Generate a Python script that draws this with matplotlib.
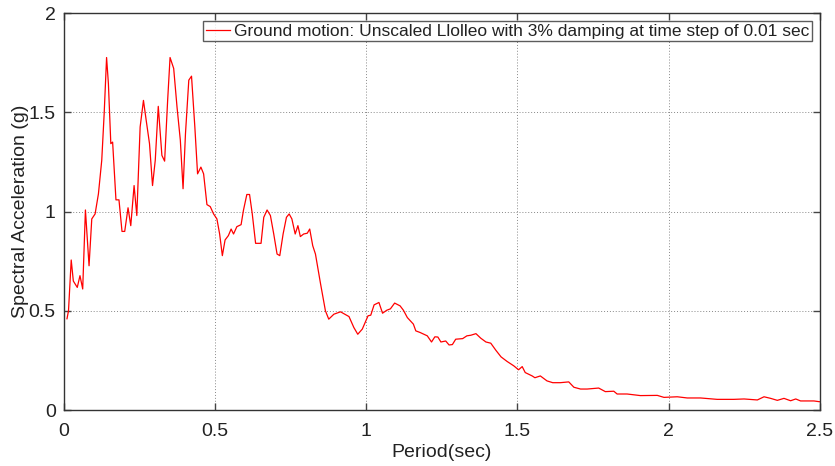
import matplotlib
matplotlib.use("Agg")
import matplotlib.pyplot as plt
import numpy as np

plt.rcParams['font.family'] = ['Liberation Sans', 'DejaVu Sans']

period = [
    0.010, 0.015, 0.024, 0.031, 0.044, 0.053, 0.062, 0.071, 0.083, 0.092,
    0.103, 0.114, 0.125, 0.133, 0.141, 0.147, 0.155, 0.161, 0.172, 0.182,
    0.192, 0.201, 0.212, 0.221, 0.232, 0.241, 0.252, 0.263, 0.272, 0.283,
    0.293, 0.302, 0.312, 0.324, 0.333, 0.343, 0.351, 0.363, 0.374, 0.385,
    0.394, 0.402, 0.413, 0.422, 0.433, 0.442, 0.453, 0.462, 0.473, 0.484,
    0.495, 0.506, 0.515, 0.524, 0.533, 0.544, 0.553, 0.561, 0.572, 0.586,
    0.594, 0.605, 0.614, 0.623, 0.634, 0.652, 0.661, 0.672, 0.683, 0.694,
    0.705, 0.714, 0.725, 0.736, 0.745, 0.754, 0.765, 0.774, 0.782, 0.793,
    0.805, 0.813, 0.823, 0.832, 0.849, 0.865, 0.876, 0.893, 0.915, 0.943,
    0.959, 0.972, 0.987, 1.006, 1.015, 1.026, 1.042, 1.054, 1.068, 1.080,
    1.094, 1.112, 1.123, 1.136, 1.156, 1.164, 1.178, 1.202, 1.216, 1.227,
    1.237, 1.247, 1.263, 1.274, 1.285, 1.296, 1.319, 1.333, 1.346, 1.363,
    1.379, 1.396, 1.412, 1.429, 1.446, 1.466, 1.488, 1.504, 1.516, 1.526,
    1.549, 1.558, 1.576, 1.598, 1.617, 1.642, 1.670, 1.687, 1.709, 1.731,
    1.769, 1.791, 1.819, 1.830, 1.863, 1.907, 1.963, 1.985, 2.029, 2.062,
    2.106, 2.161, 2.216, 2.250, 2.294, 2.316, 2.338, 2.360, 2.382, 2.404,
    2.421, 2.437, 2.481, 2.500,
]
sa = [
    0.460, 0.500, 0.756, 0.650, 0.618, 0.677, 0.610, 1.008, 0.727, 0.963,
    0.988, 1.089, 1.258, 1.493, 1.776, 1.645, 1.342, 1.350, 1.059, 1.059,
    0.900, 0.900, 1.019, 0.929, 1.131, 0.980, 1.426, 1.560, 1.460, 1.342,
    1.131, 1.258, 1.530, 1.283, 1.254, 1.560, 1.776, 1.721, 1.527, 1.359,
    1.115, 1.392, 1.662, 1.682, 1.426, 1.190, 1.224, 1.190, 1.035, 1.025,
    0.988, 0.963, 0.887, 0.778, 0.857, 0.879, 0.912, 0.887, 0.924, 0.934,
    1.008, 1.086, 1.086, 0.988, 0.840, 0.840, 0.971, 1.008, 0.980, 0.887,
    0.786, 0.778, 0.887, 0.971, 0.988, 0.963, 0.887, 0.929, 0.874, 0.887,
    0.891, 0.912, 0.828, 0.786, 0.635, 0.500, 0.458, 0.483, 0.495, 0.471,
    0.416, 0.382, 0.408, 0.475, 0.478, 0.530, 0.542, 0.488, 0.503, 0.510,
    0.539, 0.525, 0.503, 0.466, 0.433, 0.399, 0.391, 0.374, 0.343, 0.369,
    0.368, 0.343, 0.348, 0.328, 0.330, 0.357, 0.360, 0.374, 0.377, 0.385,
    0.362, 0.343, 0.337, 0.301, 0.268, 0.245, 0.223, 0.203, 0.219, 0.189,
    0.172, 0.163, 0.172, 0.147, 0.138, 0.138, 0.142, 0.115, 0.106, 0.106,
    0.111, 0.093, 0.095, 0.081, 0.081, 0.073, 0.074, 0.064, 0.067, 0.061,
    0.061, 0.054, 0.054, 0.056, 0.051, 0.067, 0.059, 0.049, 0.059, 0.047,
    0.056, 0.046, 0.046, 0.042,
]

x_ticks = [0, 0.5, 1, 1.5, 2, 2.5]
x_ticklabels = ['0', '0.5', '1', '1.5', '2', '2.5']
y_ticks = [0, 0.5, 1, 1.5, 2]
y_ticklabels = ['0', '0.5', '1', '1.5', '2']

fig = plt.figure(figsize=(8.35, 4.66), dpi=100)
ax = fig.add_axes([0.0766, 0.120, 0.905, 0.852])

ax.plot(period, sa, color='#ff0000', lw=0.9,
        label='Ground motion: Unscaled Llolleo with 3% damping at time step of 0.01 sec')

ax.set_xlim(0, 2.5)
ax.set_ylim(0, 2)
ax.set_xticks(x_ticks)
ax.set_xticklabels(x_ticklabels)
ax.set_yticks(y_ticks)
ax.set_yticklabels(y_ticklabels)
ax.tick_params(direction='in', length=5, width=1, labelsize=14,
               top=True, right=True, color='#444444', labelcolor='#222222')
ax.tick_params(axis='x', pad=9)
ax.tick_params(axis='y', pad=6)
ax.grid(True, color='#888888', linestyle=(0, (1, 2)), lw=0.7)
for s in ax.spines.values():
    s.set_color('#333333')
    s.set_linewidth(1.0)

ax.set_xlabel('Period(sec)', fontsize=14, labelpad=3, color='#222222')
ax.set_ylabel('Spectral Acceleration (g)', fontsize=14, labelpad=0, color='#222222')

leg = ax.legend(loc='upper right', fontsize=12.5, frameon=True, fancybox=False,
                handlelength=1.4, handletextpad=0.2, borderpad=0.15,
                borderaxespad=0.45)
leg.get_frame().set_edgecolor('#333333')
leg.get_frame().set_linewidth(1.0)
for t in leg.get_texts():
    t.set_color('#222222')

fig.savefig('out.png', dpi=100)
